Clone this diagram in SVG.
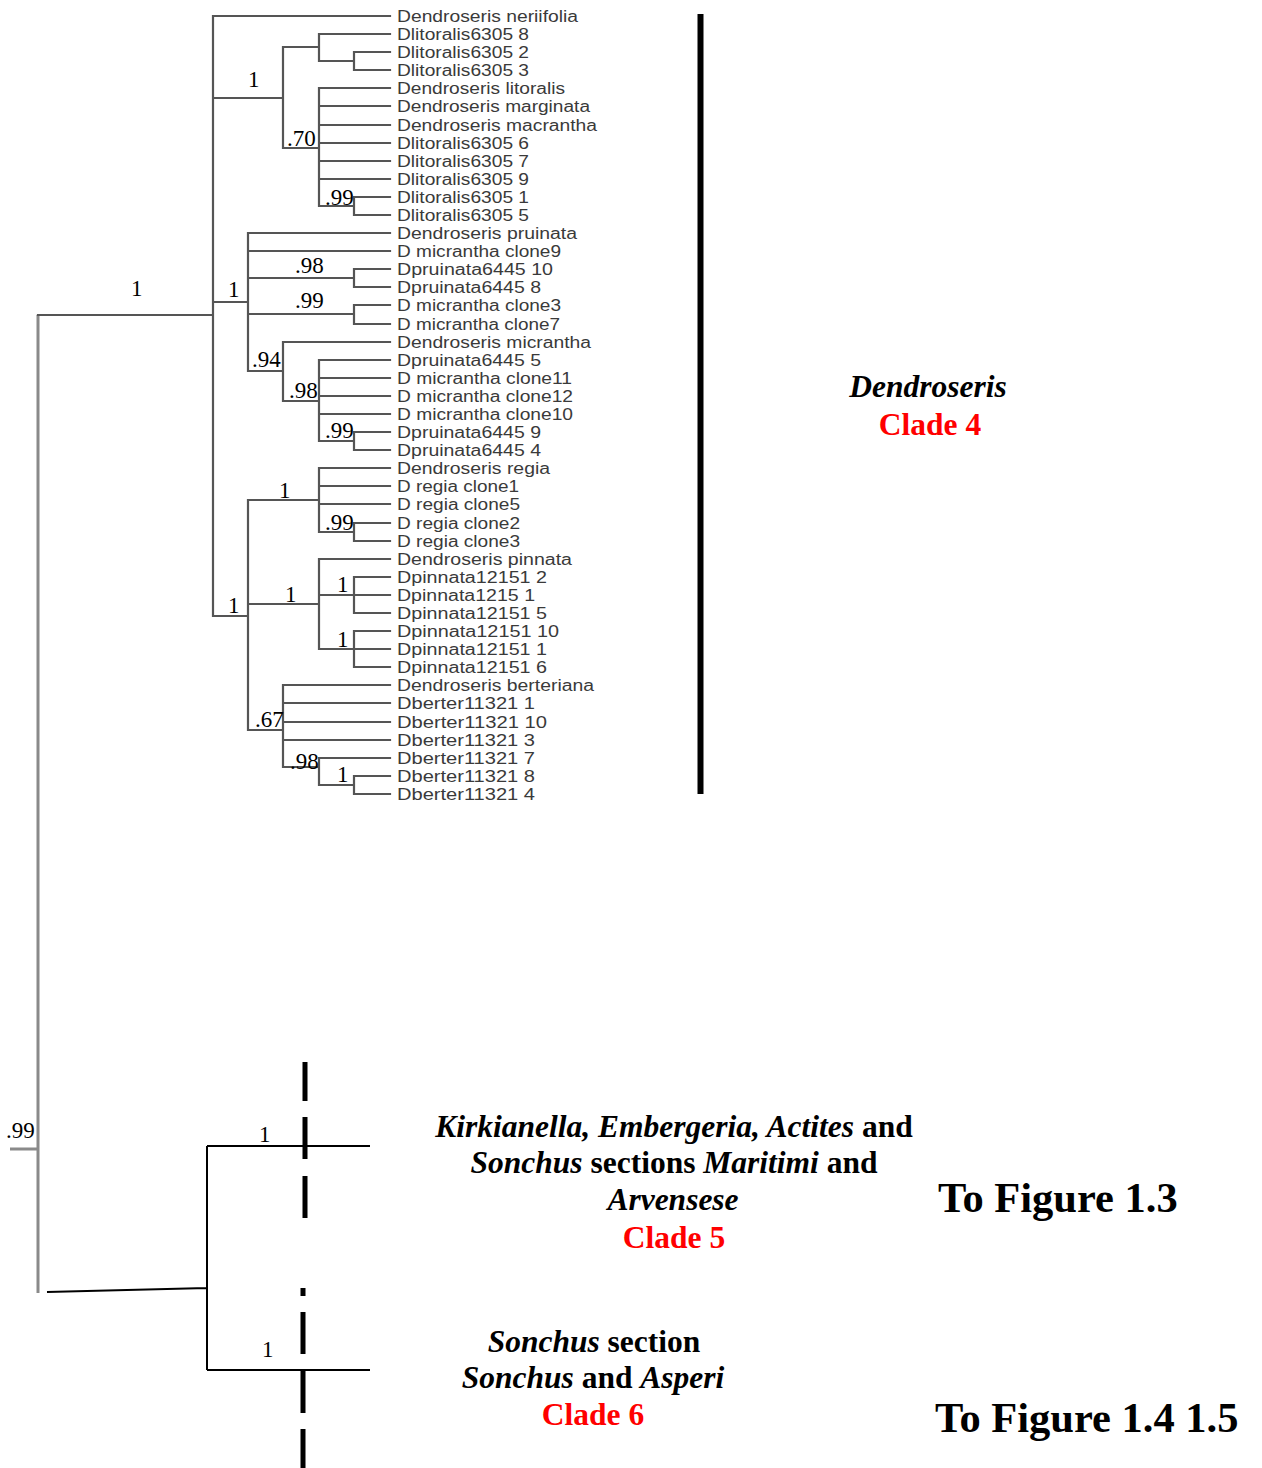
<svg xmlns="http://www.w3.org/2000/svg" width="1262" height="1468" viewBox="0 0 1262 1468">
<style>
.br{fill:none;stroke:#555;stroke-width:2.2;stroke-linecap:square}
.gr{fill:none;stroke:#8a8a8a;stroke-width:3}
.bk{fill:none;stroke:#000;stroke-width:2}
.lf{font-family:"Liberation Sans",Arial,sans-serif;font-size:16px;fill:#3a3a3a}
.sp{font-family:"Liberation Serif","Times New Roman",serif;font-size:23px;fill:#000}
.cap{font-family:"Liberation Serif","Times New Roman",serif;font-size:31.5px;font-weight:bold;fill:#000;text-anchor:middle}
.red{fill:#ff0000;font-style:normal}
.fig{font-family:"Liberation Serif","Times New Roman",serif;font-size:42.5px;font-weight:bold;fill:#000}
.dash{fill:#000}
</style>
<rect width="1262" height="1468" fill="#fff"/>
<g id="connectors">
<path class="gr" d="M38,315 V1293 M10,1149 H38"/>
<path class="br" d="M38,315 H213 M213,16 V616 M213,16 H390
M213,98 H283 M283,47 V148 M283,47 H319 M319,34 V61 M319,34 H390 M319,61 H354 M354,52 V70 M354,52 H390 M354,70 H390
M283,148 H319 M319,88 V206 M319,88 H390 M319,106 H390 M319,125 H390 M319,143 H390 M319,161 H390 M319,179 H390 M319,206 H354 M354,197 V215 M354,197 H390 M354,215 H390
M213,302 H248 M248,233 V371 M248,233 H390 M248,251 H390 M248,278 H354 M354,269 V287 M354,269 H390 M354,287 H390 M248,314 H354 M354,305 V324 M354,305 H390 M354,324 H390
M248,371 H283 M283,342 V401 M283,342 H390 M283,401 H319 M319,360 V441 M319,360 H390 M319,378 H390 M319,396 H390 M319,414 H390 M319,441 H354 M354,432 V450 M354,432 H390 M354,450 H390
M213,616 H248 M248,500 V730 M248,500 H319 M319,468 V532 M319,468 H390 M319,486 H390 M319,504 H390 M319,532 H354 M354,523 V541 M354,523 H390 M354,541 H390
M248,604 H319 M319,559 V649 M319,559 H390 M319,595 H354 M354,577 V613 M354,577 H390 M354,595 H390 M354,613 H390 M319,649 H354 M354,631 V667 M354,631 H390 M354,649 H390 M354,667 H390
M248,730 H283 M283,685 V767 M283,685 H390 M283,703 H390 M283,722 H390 M283,740 H390 M283,767 H319 M319,758 V785 M319,758 H390 M319,785 H354 M354,776 V794 M354,776 H390 M354,794 H390"/>
<path class="bk" d="M47,1292 L207,1288 M207,1146 V1370 M207,1146 H370 M207,1370 H370"/>
<rect x="697.5" y="14" width="6" height="780" fill="#000"/>
<g class="dash">
<rect x="302.5" y="1062" width="5" height="39"/>
<rect x="302.5" y="1117" width="5" height="42"/>
<rect x="302.5" y="1176" width="5" height="42"/>
<rect x="300.5" y="1288" width="5" height="8"/>
<rect x="300.5" y="1312" width="5" height="42"/>
<rect x="300.5" y="1370" width="5" height="43"/>
<rect x="300.5" y="1429" width="5" height="39"/>
</g>
</g>
<g id="support">
<text class="sp" x="131" y="296">1</text>
<text class="sp" x="228" y="297">1</text>
<text class="sp" x="248" y="87">1</text>
<text class="sp" x="287" y="146">.70</text>
<text class="sp" x="325" y="205">.99</text>
<text class="sp" x="295" y="273">.98</text>
<text class="sp" x="295" y="308">.99</text>
<text class="sp" x="252" y="367">.94</text>
<text class="sp" x="289" y="398">.98</text>
<text class="sp" x="325" y="438">.99</text>
<text class="sp" x="279" y="498">1</text>
<text class="sp" x="325" y="530">.99</text>
<text class="sp" x="285" y="602">1</text>
<text class="sp" x="337" y="592">1</text>
<text class="sp" x="228" y="613">1</text>
<text class="sp" x="337" y="647">1</text>
<text class="sp" x="255" y="727">.67</text>
<text class="sp" x="290" y="769">.98</text>
<text class="sp" x="337" y="782">1</text>
<text class="sp" x="6" y="1138">.99</text>
<text class="sp" x="259" y="1142">1</text>
<text class="sp" x="262" y="1357">1</text>
</g>
<g id="leaves" class="lf">
<g id="n1"><text x="397" y="22" textLength="181" lengthAdjust="spacingAndGlyphs">Dendroseris neriifolia</text></g>
<g id="n2"><text x="397" y="40" textLength="132" lengthAdjust="spacingAndGlyphs">Dlitoralis6305 8</text></g>
<g id="n3"><text x="397" y="58" textLength="132" lengthAdjust="spacingAndGlyphs">Dlitoralis6305 2</text></g>
<g id="n4"><text x="397" y="76" textLength="132" lengthAdjust="spacingAndGlyphs">Dlitoralis6305 3</text></g>
<g id="n5"><text x="397" y="94" textLength="168" lengthAdjust="spacingAndGlyphs">Dendroseris litoralis</text></g>
<g id="n6"><text x="397" y="112" textLength="193" lengthAdjust="spacingAndGlyphs">Dendroseris marginata</text></g>
<g id="n7"><text x="397" y="131" textLength="200" lengthAdjust="spacingAndGlyphs">Dendroseris macrantha</text></g>
<g id="n8"><text x="397" y="149" textLength="132" lengthAdjust="spacingAndGlyphs">Dlitoralis6305 6</text></g>
<g id="n9"><text x="397" y="167" textLength="132" lengthAdjust="spacingAndGlyphs">Dlitoralis6305 7</text></g>
<g id="n10"><text x="397" y="185" textLength="132" lengthAdjust="spacingAndGlyphs">Dlitoralis6305 9</text></g>
<g id="n11"><text x="397" y="203" textLength="132" lengthAdjust="spacingAndGlyphs">Dlitoralis6305 1</text></g>
<g id="n12"><text x="397" y="221" textLength="132" lengthAdjust="spacingAndGlyphs">Dlitoralis6305 5</text></g>
<g id="n13"><text x="397" y="239" textLength="180" lengthAdjust="spacingAndGlyphs">Dendroseris pruinata</text></g>
<g id="n14"><text x="397" y="257" textLength="164" lengthAdjust="spacingAndGlyphs">D micrantha clone9</text></g>
<g id="n15"><text x="397" y="275" textLength="156" lengthAdjust="spacingAndGlyphs">Dpruinata6445 10</text></g>
<g id="n16"><text x="397" y="293" textLength="144" lengthAdjust="spacingAndGlyphs">Dpruinata6445 8</text></g>
<g id="n17"><text x="397" y="311" textLength="164" lengthAdjust="spacingAndGlyphs">D micrantha clone3</text></g>
<g id="n18"><text x="397" y="330" textLength="163" lengthAdjust="spacingAndGlyphs">D micrantha clone7</text></g>
<g id="n19"><text x="397" y="348" textLength="194" lengthAdjust="spacingAndGlyphs">Dendroseris micrantha</text></g>
<g id="n20"><text x="397" y="366" textLength="144" lengthAdjust="spacingAndGlyphs">Dpruinata6445 5</text></g>
<g id="n21"><text x="397" y="384" textLength="175" lengthAdjust="spacingAndGlyphs">D micrantha clone11</text></g>
<g id="n22"><text x="397" y="402" textLength="176" lengthAdjust="spacingAndGlyphs">D micrantha clone12</text></g>
<g id="n23"><text x="397" y="420" textLength="176" lengthAdjust="spacingAndGlyphs">D micrantha clone10</text></g>
<g id="n24"><text x="397" y="438" textLength="144" lengthAdjust="spacingAndGlyphs">Dpruinata6445 9</text></g>
<g id="n25"><text x="397" y="456" textLength="144" lengthAdjust="spacingAndGlyphs">Dpruinata6445 4</text></g>
<g id="n26"><text x="397" y="474" textLength="153" lengthAdjust="spacingAndGlyphs">Dendroseris regia</text></g>
<g id="n27"><text x="397" y="492" textLength="122" lengthAdjust="spacingAndGlyphs">D regia clone1</text></g>
<g id="n28"><text x="397" y="510" textLength="123" lengthAdjust="spacingAndGlyphs">D regia clone5</text></g>
<g id="n29"><text x="397" y="529" textLength="123" lengthAdjust="spacingAndGlyphs">D regia clone2</text></g>
<g id="n30"><text x="397" y="547" textLength="123" lengthAdjust="spacingAndGlyphs">D regia clone3</text></g>
<g id="n31"><text x="397" y="565" textLength="175" lengthAdjust="spacingAndGlyphs">Dendroseris pinnata</text></g>
<g id="n32"><text x="397" y="583" textLength="150" lengthAdjust="spacingAndGlyphs">Dpinnata12151 2</text></g>
<g id="n33"><text x="397" y="601" textLength="138" lengthAdjust="spacingAndGlyphs">Dpinnata1215 1</text></g>
<g id="n34"><text x="397" y="619" textLength="150" lengthAdjust="spacingAndGlyphs">Dpinnata12151 5</text></g>
<g id="n35"><text x="397" y="637" textLength="162" lengthAdjust="spacingAndGlyphs">Dpinnata12151 10</text></g>
<g id="n36"><text x="397" y="655" textLength="150" lengthAdjust="spacingAndGlyphs">Dpinnata12151 1</text></g>
<g id="n37"><text x="397" y="673" textLength="150" lengthAdjust="spacingAndGlyphs">Dpinnata12151 6</text></g>
<g id="n38"><text x="397" y="691" textLength="197" lengthAdjust="spacingAndGlyphs">Dendroseris berteriana</text></g>
<g id="n39"><text x="397" y="709" textLength="138" lengthAdjust="spacingAndGlyphs">Dberter11321 1</text></g>
<g id="n40"><text x="397" y="728" textLength="150" lengthAdjust="spacingAndGlyphs">Dberter11321 10</text></g>
<g id="n41"><text x="397" y="746" textLength="138" lengthAdjust="spacingAndGlyphs">Dberter11321 3</text></g>
<g id="n42"><text x="397" y="764" textLength="138" lengthAdjust="spacingAndGlyphs">Dberter11321 7</text></g>
<g id="n43"><text x="397" y="782" textLength="138" lengthAdjust="spacingAndGlyphs">Dberter11321 8</text></g>
<g id="n44"><text x="397" y="800" textLength="138" lengthAdjust="spacingAndGlyphs">Dberter11321 4</text></g>
</g>
<g id="clade4">
<text class="cap" x="928" y="397" font-style="italic">Dendroseris</text>
<text class="cap red" x="930" y="435">Clade 4</text>
</g>
<g id="clade5">
<text class="cap" x="674" y="1137"><tspan font-style="italic">Kirkianella, Embergeria, Actites</tspan> and</text>
<text class="cap" x="674" y="1173"><tspan font-style="italic">Sonchus</tspan> sections <tspan font-style="italic">Maritimi</tspan> and</text>
<text class="cap" x="673" y="1210" font-style="italic">Arvensese</text>
<text class="cap red" x="674" y="1248">Clade 5</text>
</g>
<g id="clade6">
<text class="cap" x="594" y="1352"><tspan font-style="italic">Sonchus</tspan> section</text>
<text class="cap" x="593" y="1388"><tspan font-style="italic">Sonchus</tspan> and <tspan font-style="italic">Asperi</tspan></text>
<text class="cap red" x="593" y="1425">Clade 6</text>
</g>
<g id="fig13"><text class="fig" x="938" y="1212">To Figure 1.3</text></g>
<g id="fig145"><text class="fig" x="935" y="1432">To Figure 1.4 1.5</text></g>
</svg>
